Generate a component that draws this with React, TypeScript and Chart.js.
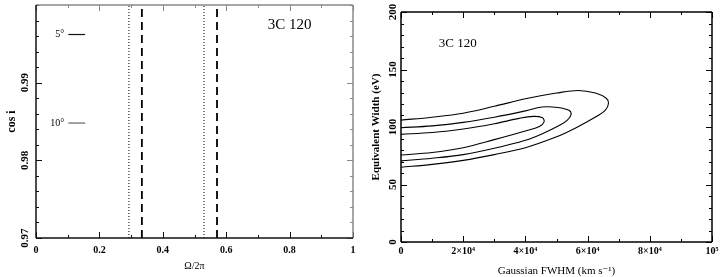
import React, { useEffect, useRef } from "react";
import { Chart, registerables } from "chart.js";
Chart.register(...registerables);

// ---------- Left panel data ----------
const leftXTicks = [0, 0.2, 0.4, 0.6, 0.8, 1];
const leftXTickLabels = ["0", "0.2", "0.4", "0.6", "0.8", "1"];
const leftYTicks = [0.97, 0.98, 0.99];
const leftYTickLabels = ["0.97", "0.98", "0.99"];
const dottedPhases = [0.293, 0.53];
const dashedPhases = [0.334, 0.571];
const inclinationLabels = ["5°", "10°"];
const inclinationCos = [0.9962, 0.9848];
const markerXRange = [0.102, 0.155];

// ---------- Right panel data ----------
const rightXTicks = [0, 20000, 40000, 60000, 80000, 100000];
const rightXTickLabels = ["0", "2×10⁴", "4×10⁴", "6×10⁴", "8×10⁴", "10⁵"];
const rightYTicks = [0, 50, 100, 150, 200];
const rightYTickLabels = ["0", "50", "100", "150", "200"];

const outerFwhm = [0, 10000, 20000, 30000, 40000, 50000, 57000, 62500, 66000, 66700, 65700, 62400, 56000, 49600, 40000, 30000, 20000, 10000, 0];
const outerEw = [106, 108.5, 112, 118, 124.5, 129.5, 131.8, 129.5, 125, 120.5, 114.7, 108.4, 99, 91, 82, 76, 71, 67.5, 65];
const middleFwhm = [0, 10000, 20000, 30000, 40000, 45300, 50500, 54000, 54700, 53500, 51000, 45300, 40000, 30000, 20000, 10000, 0];
const middleEw = [99.4, 101, 104, 108.5, 114, 117.4, 117, 114.5, 111, 106, 101.5, 94, 88.5, 81.5, 76, 72.8, 70.5];
const innerFwhm = [0, 10000, 20000, 30000, 38000, 42500, 45500, 46000, 44500, 40000, 30000, 20000, 10000, 0];
const innerEw = [93.6, 95.2, 98.2, 102.8, 107.5, 109.2, 108, 104.5, 100.5, 96.5, 89, 82, 77.8, 75.7];

const SERIF = '"Liberation Serif", "DejaVu Serif", serif';

type TextItem = { text: string; x: number; y: number; font: string; align: CanvasTextAlign; color?: string };
type FrameOpts = {
  xMajor: number[];
  xMinorStep: number;
  yMajor: number[];
  yMinorStep: number;
  yLabels: string[];
  yLabelX: number;
  labelFont: string;
  colors: { left: string; bottom: string; top: string; right: string };
  lineWidth: number;
  major: number;
  minor: number;
  texts: TextItem[];
};

const framePlugin = {
  id: "frame",
  afterDatasetsDraw(chart: any, _args: any, opts: FrameOpts) {
    const { ctx, chartArea: a, scales } = chart;
    const xs = scales.x;
    const ys = scales.y;
    ctx.save();
    const seg = (x1: number, y1: number, x2: number, y2: number, color: string, w = 1) => {
      ctx.strokeStyle = color;
      ctx.lineWidth = w;
      ctx.setLineDash([]);
      ctx.beginPath();
      ctx.moveTo(x1, y1);
      ctx.lineTo(x2, y2);
      ctx.stroke();
    };
    const isMajor = (v: number, arr: number[]) => arr.some((t) => Math.abs(t - v) < 1e-9 * Math.max(1, Math.abs(t)) + 1e-9);
    const nX = Math.round((xs.max - xs.min) / opts.xMinorStep);
    for (let i = 0; i <= nX; i++) {
      const v = xs.min + i * opts.xMinorStep;
      const len = isMajor(v, opts.xMajor) ? opts.major : opts.minor;
      const px = Math.round(xs.getPixelForValue(v)) + 0.5;
      seg(px, a.bottom, px, a.bottom - len, opts.colors.bottom);
      seg(px, a.top, px, a.top + len, opts.colors.top);
    }
    const nY = Math.round((ys.max - ys.min) / opts.yMinorStep);
    for (let i = 0; i <= nY; i++) {
      const v = ys.min + i * opts.yMinorStep;
      const len = isMajor(v, opts.yMajor) ? opts.major : opts.minor;
      const py = Math.round(ys.getPixelForValue(v)) + 0.5;
      seg(a.left, py, a.left + len, py, opts.colors.left);
      seg(a.right, py, a.right - len, py, opts.colors.right);
    }
    const w = opts.lineWidth;
    seg(a.left, a.top, a.right, a.top, opts.colors.top, w);
    seg(a.right, a.top, a.right, a.bottom, opts.colors.right, w);
    seg(a.left, a.top, a.left, a.bottom, opts.colors.left, w);
    seg(a.left, a.bottom, a.right, a.bottom, opts.colors.bottom, w);
    ctx.fillStyle = "#000";
    ctx.font = opts.labelFont;
    ctx.textAlign = "center";
    ctx.textBaseline = "middle";
    opts.yMajor.forEach((v, i) => {
      const py = ys.getPixelForValue(v);
      ctx.save();
      ctx.translate(opts.yLabelX, py);
      ctx.rotate(-Math.PI / 2);
      ctx.fillText(opts.yLabels[i], 0, 0);
      ctx.restore();
    });
    opts.texts.forEach((t) => {
      ctx.font = t.font;
      ctx.fillStyle = t.color || "#000";
      ctx.textAlign = t.align;
      ctx.textBaseline = "middle";
      ctx.fillText(t.text, xs.getPixelForValue(t.x), ys.getPixelForValue(t.y));
    });
    ctx.restore();
  },
};

function pts(xs: number[], ys: number[]) {
  return xs.map((x, i) => ({ x, y: ys[i] }));
}

function findLabel(v: number, ticks: number[], labels: string[]) {
  const i = ticks.findIndex((t) => Math.abs(t - v) < 1e-6 * Math.max(1, Math.abs(t)));
  return i >= 0 ? labels[i] : "";
}

export default function App() {
  const leftRef = useRef<HTMLCanvasElement>(null);
  const rightRef = useRef<HTMLCanvasElement>(null);

  useEffect(() => {
    const tickFont = { family: SERIF, size: 10, weight: "bold" as const };

    const leftDatasets: any[] = [];
    dottedPhases.forEach((p) =>
      leftDatasets.push({
        data: [{ x: p, y: 0.97 }, { x: p, y: 1.0 }],
        borderColor: "#555",
        borderWidth: 1.5,
        borderDash: [1, 2],
        pointRadius: 0,
        showLine: true,
      })
    );
    dashedPhases.forEach((p) =>
      leftDatasets.push({
        data: [{ x: p, y: 0.97 }, { x: p, y: 1.0 }],
        borderColor: "#000",
        borderWidth: 1.8,
        borderDash: [8, 5],
        pointRadius: 0,
        showLine: true,
      })
    );
    inclinationCos.forEach((c, i) =>
      leftDatasets.push({
        data: [{ x: markerXRange[0], y: c }, { x: markerXRange[1], y: c }],
        borderColor: i === 0 ? "#111" : "#666",
        borderWidth: 1.2,
        pointRadius: 0,
        showLine: true,
      })
    );

    const left = new Chart(leftRef.current as HTMLCanvasElement, {
      type: "scatter",
      data: { datasets: leftDatasets },
      plugins: [framePlugin as any],
      options: {
        responsive: false,
        animation: false,
        devicePixelRatio: 1,
        layout: { padding: { left: 0, top: 5, right: 9, bottom: 0 } },
        plugins: {
          legend: { display: false },
          tooltip: { enabled: false },
          frame: {
            xMajor: leftXTicks,
            xMinorStep: 0.1,
            yMajor: leftYTicks,
            yMinorStep: 0.002,
            yLabels: leftYTickLabels,
            yLabelX: 25,
            labelFont: `bold 11px ${SERIF}`,
            colors: { left: "#111", bottom: "#111", top: "#888", right: "#888" },
            lineWidth: 1.5,
            major: 6,
            minor: 3,
            texts: [
              { text: "3C 120", x: 0.8, y: 0.9974, font: `15px ${SERIF}`, align: "center" },
              { text: inclinationLabels[0], x: 0.089, y: inclinationCos[0], font: `10px ${SERIF}`, align: "right" },
              { text: inclinationLabels[1], x: 0.089, y: inclinationCos[1], font: `10px ${SERIF}`, align: "right" },
            ],
          } as any,
        } as any,
        scales: {
          x: {
            type: "linear",
            min: 0,
            max: 1,
            afterFit: (s: any) => {
              s.height = 39;
            },
            afterBuildTicks: (s: any) => {
              s.ticks = leftXTicks.map((v) => ({ value: v }));
            },
            grid: { display: false, drawTicks: false },
            border: { display: false },
            ticks: {
              autoSkip: false,
              maxRotation: 0,
              padding: 6,
              color: "#000",
              font: tickFont,
              callback: (v: any) => findLabel(Number(v), leftXTicks, leftXTickLabels),
            },
            title: {
              display: true,
              text: "Ω/2π",
              color: "#000",
              font: { family: SERIF, size: 10, lineHeight: 1.2 },
              padding: { top: 0, bottom: 5 },
            },
          },
          y: {
            type: "linear",
            min: 0.97,
            max: 1.0,
            afterFit: (s: any) => {
              s.width = 36;
            },
            grid: { display: false, drawTicks: false },
            border: { display: false },
            ticks: { display: false },
            title: {
              display: true,
              text: "cos i",
              color: "#000",
              font: { family: SERIF, size: 12, weight: "bold", lineHeight: 1.2 },
              padding: { top: 5, bottom: 0 },
            },
          },
        },
      },
    } as any);

    const contourStyle = { borderColor: "#000", borderWidth: 1.1, pointRadius: 0, showLine: true, tension: 0.35 };
    const right = new Chart(rightRef.current as HTMLCanvasElement, {
      type: "scatter",
      data: {
        datasets: [
          { data: pts(outerFwhm, outerEw), ...contourStyle },
          { data: pts(middleFwhm, middleEw), ...contourStyle },
          { data: pts(innerFwhm, innerEw), ...contourStyle },
        ],
      },
      plugins: [framePlugin as any],
      options: {
        responsive: false,
        animation: false,
        devicePixelRatio: 1,
        layout: { padding: { left: 0, top: 12, right: 12, bottom: 0 } },
        plugins: {
          legend: { display: false },
          tooltip: { enabled: false },
          frame: {
            xMajor: rightXTicks,
            xMinorStep: 10000,
            yMajor: rightYTicks,
            yMinorStep: 10,
            yLabels: rightYTickLabels,
            yLabelX: 31,
            labelFont: `bold 11px ${SERIF}`,
            colors: { left: "#000", bottom: "#000", top: "#000", right: "#000" },
            lineWidth: 1.5,
            major: 6,
            minor: 3,
            texts: [{ text: "3C 120", x: 18250, y: 172.9, font: `13px ${SERIF}`, align: "center" }],
          } as any,
        } as any,
        scales: {
          x: {
            type: "linear",
            min: 0,
            max: 100000,
            afterFit: (s: any) => {
              s.height = 35;
            },
            afterBuildTicks: (s: any) => {
              s.ticks = rightXTicks.map((v) => ({ value: v }));
            },
            grid: { display: false, drawTicks: false },
            border: { display: false },
            ticks: {
              autoSkip: false,
              maxRotation: 0,
              padding: 3,
              color: "#000",
              font: tickFont,
              callback: (v: any) => findLabel(Number(v), rightXTicks, rightXTickLabels),
            },
            title: {
              display: true,
              text: "Gaussian FWHM (km s⁻¹)",
              color: "#000",
              font: { family: SERIF, size: 11, lineHeight: 1.0 },
              padding: { top: 0, bottom: 0 },
            },
          },
          y: {
            type: "linear",
            min: 0,
            max: 200,
            afterFit: (s: any) => {
              s.width = 39;
            },
            grid: { display: false, drawTicks: false },
            border: { display: false },
            ticks: { display: false },
            title: {
              display: true,
              text: "Equivalent Width (eV)",
              color: "#000",
              font: { family: SERIF, size: 11, weight: "bold", lineHeight: 1.2 },
              padding: { top: 8, bottom: 0 },
            },
          },
        },
      },
    } as any);

    return () => {
      left.destroy();
      right.destroy();
    };
  }, []);

  return (
    <div style={{ position: "fixed", left: 0, top: 0, width: 724, height: 277, background: "#fff" }}>
      <canvas
        ref={leftRef}
        width={362}
        height={277}
        style={{ position: "absolute", left: 0, top: 0, width: 362, height: 277 }}
      />
      <canvas
        ref={rightRef}
        width={362}
        height={277}
        style={{ position: "absolute", left: 362, top: 0, width: 362, height: 277 }}
      />
    </div>
  );
}
